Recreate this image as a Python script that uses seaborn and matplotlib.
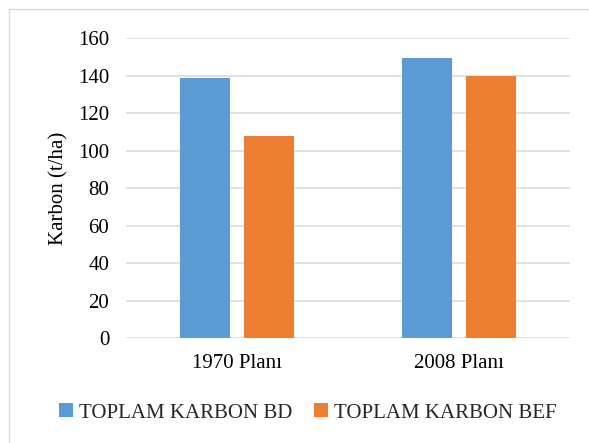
import matplotlib
matplotlib.use("Agg")
import matplotlib.pyplot as plt
import matplotlib.patches as mpatches
import seaborn as sns
import pandas as pd

categories = ["1970 Planı", "2008 Planı"]
series_names = ["TOPLAM KARBON BD", "TOPLAM KARBON BEF"]
bd_values = [139.0, 149.5]
bef_values = [108.0, 139.7]
y_ticks = [0, 20, 40, 60, 80, 100, 120, 140, 160]
colors = ["#5B9BD5", "#ED7D31"]

df = pd.DataFrame({
    "Plan": categories * 2,
    "Seri": [series_names[0]] * 2 + [series_names[1]] * 2,
    "Karbon": bd_values + bef_values,
})

sns.set_theme(style="white")
plt.rcParams["font.family"] = "serif"
plt.rcParams["font.serif"] = ["Liberation Serif", "Times New Roman", "DejaVu Serif"]

W, H = 589, 443
fig = plt.figure(figsize=(W / 100, H / 100), dpi=100)
ax = fig.add_axes([126 / W, (H - 338.3) / H, (570 - 126) / W, (338.3 - 38.3) / H])

sns.barplot(data=df, x="Plan", y="Karbon", hue="Seri", palette=colors,
            width=0.577, gap=0.218, saturation=1, ax=ax, legend=False,
            edgecolor="none", linewidth=0, zorder=3)

fs = 15
ax.set_ylim(0, 160)
ax.set_xlim(-0.5, 1.5)
ax.set_yticks(y_ticks)
ax.set_yticklabels([str(v) for v in y_ticks], fontsize=fs, color="#000000")
ax.set_xticks(range(len(categories)))
ax.set_xticklabels(categories, fontsize=fs, color="#000000")
ax.tick_params(axis="y", length=0, pad=12)
ax.tick_params(axis="x", length=0, pad=11)
ax.set_xlabel("")
ax.set_ylabel("Karbon (t/ha)", fontsize=fs, color="#000000", labelpad=7)
for s in ax.spines.values():
    s.set_visible(False)
ax.yaxis.grid(True, color="#D9D9D9", linewidth=1.1, zorder=0)
ax.set_axisbelow(True)

handles = [mpatches.Patch(facecolor=c, edgecolor="none", label=n)
           for c, n in zip(colors, series_names)]
fig.legend(handles=handles, loc="center", bbox_to_anchor=(308 / W, 1 - 413 / H),
           ncol=2, frameon=False, fontsize=fs, handlelength=0.65, handleheight=0.65,
           handletextpad=0.3, columnspacing=1.05, borderaxespad=0)

# light frame around the chart area
frame = mpatches.Rectangle((9 / W, -0.05), 1.2, 1 - 9 / H + 0.05,
                           transform=fig.transFigure, fill=False,
                           edgecolor="#D9D9D9", linewidth=1.0)
fig.patches.append(frame)

fig.savefig("out.png", dpi=100, facecolor="white")
